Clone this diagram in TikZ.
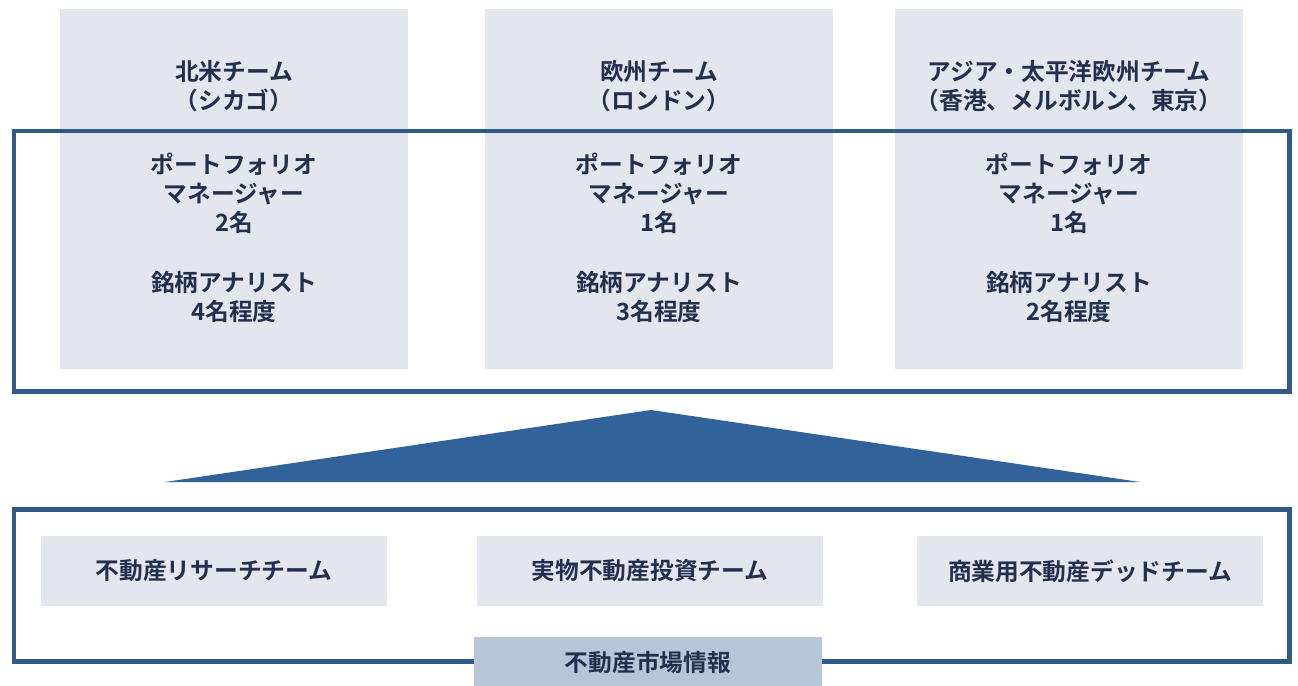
\documentclass[tikz,border=0pt]{standalone}
\usepackage{fontspec}
\newfontfamily\jpfont{Noto Sans CJK JP}[BoldFont={* Bold}]
\usetikzlibrary{positioning}

\definecolor{frameblue}{HTML}{2E5A87}
\definecolor{roofblue}{HTML}{31639A}
\definecolor{boxgray}{HTML}{E4E6EE}
\definecolor{infogray}{HTML}{B7C5D8}
\definecolor{textnavy}{HTML}{22304F}

\tikzset{
    jptext/.style={text=textnavy,font=\jpfont\bfseries\fontsize{13.5pt}{16.6pt}\selectfont},
    teambox/.style={fill=boxgray,inner sep=0,minimum width=6.96cm,minimum height=7.2cm},
    teamtext/.style={jptext,align=center,inner sep=0},
    unitbox/.style={jptext,fill=boxgray,inner sep=0,minimum width=6.94cm,minimum height=1.4cm},
    infobox/.style={jptext,fill=infogray,inner sep=0,minimum width=6.96cm,minimum height=1.06cm},
    frame/.style={draw=frameblue,line width=0.1cm}
}

\begin{document}
\begin{tikzpicture}[x=0.02cm,y=-0.02cm]
    \useasboundingbox (0,0) rectangle (1298,686);

    % teams on top
    \foreach \x/\n/\t/\pm/\an in {234/na/{北米チーム\\（シカゴ）}/2/4,
                                  659/eu/{欧州チーム\\（ロンドン）}/1/3,
                                  1069/ap/{アジア・太平洋欧州チーム\\（香港、メルボルン、東京）}/1/2}
    {
        \node [teambox] (\n) at (\x,189) {};
        \node [teamtext] (\n-title) at (\x,86) {\t};
        \node [teamtext] (\n-pm) at (\x,193) {ポートフォリオ\\マネージャー\\\pm 名};
        \node [teamtext] (\n-an) at (\x,297) {銘柄アナリスト\\\an 名程度};
    }

    % frame round the teams
    \draw [frame] (14,131) rectangle (1289,391);

    % roof
    \coordinate (roof-l) at (165,482);
    \coordinate (roof-t) at (651,410);
    \coordinate (roof-r) at (1140,482);
    \fill [roofblue] (roof-l) -- (roof-t) -- (roof-r) -- cycle;

    % support units
    \draw [frame] (14,509) rectangle (1289,661);
    \node [unitbox] (research) at (214,571) {不動産リサーチチーム};
    \node [unitbox] (direct)   at (650,571) {実物不動産投資チーム};
    \node [unitbox] (debt)     at (1090,571) {商業用不動産デッドチーム};

    \node [infobox] (info) at (648,663) {不動産市場情報};
\end{tikzpicture}
\end{document}
